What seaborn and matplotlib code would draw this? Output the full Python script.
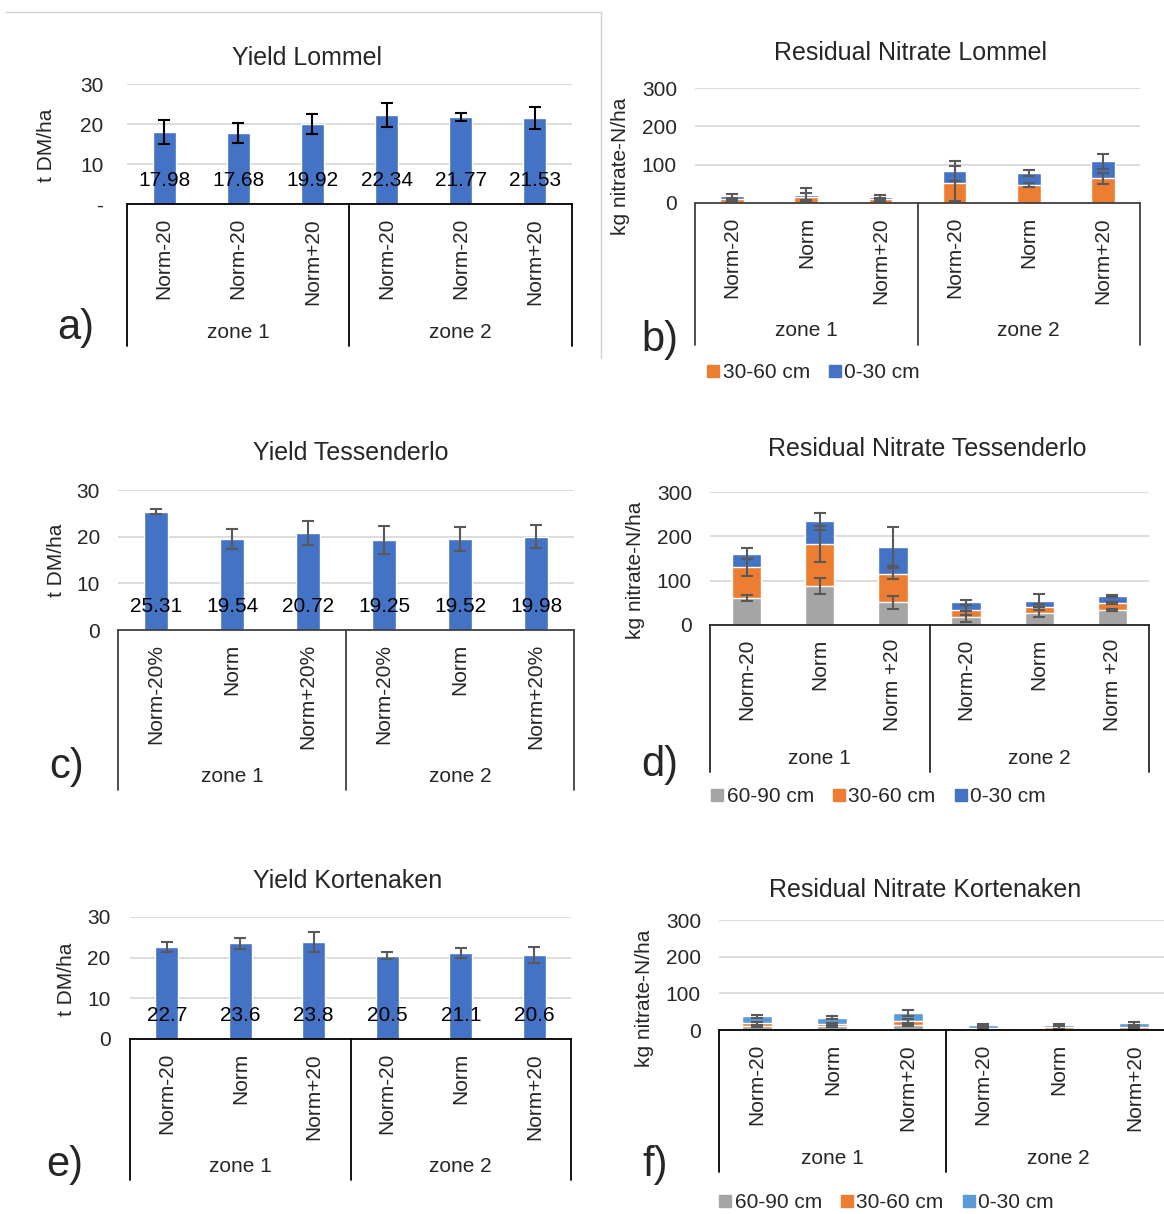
import numpy as np
import pandas as pd
import seaborn as sns
import matplotlib.pyplot as plt
from matplotlib.lines import Line2D

W, H = 1164, 1214
FS = 15

zones = ['zone 1', 'zone 2']
zone_of_bar = ['zone 1'] * 3 + ['zone 2'] * 3

# a) yield Lommel
lommel_trt = ['Norm-20', 'Norm-20', 'Norm+20', 'Norm-20', 'Norm-20', 'Norm+20']
lommel_yield = [17.98, 17.68, 19.92, 22.34, 21.77, 21.53]
lommel_yield_err = [3.0, 2.5, 2.5, 3.0, 1.0, 2.8]

# c) yield Tessenderlo
tess_trt = ['Norm-20%', 'Norm', 'Norm+20%', 'Norm-20%', 'Norm', 'Norm+20%']
tess_yield = [25.31, 19.54, 20.72, 19.25, 19.52, 19.98]
tess_yield_err = [0.55, 2.1, 2.6, 3.0, 2.6, 2.5]

# e) yield Kortenaken
kort_trt = ['Norm-20', 'Norm', 'Norm+20', 'Norm-20', 'Norm', 'Norm+20']
kort_yield = [22.7, 23.6, 23.8, 20.5, 21.1, 20.6]
kort_yield_err = [1.2, 1.35, 2.4, 0.95, 1.3, 2.0]

# b) residual nitrate Lommel (layers, bottom to top)
lommel_n_trt = ['Norm-20', 'Norm', 'Norm+20', 'Norm-20', 'Norm', 'Norm+20']
lommel_n_30_60 = [10, 16, 9.5, 51, 48, 64]
lommel_n_0_30 = [7, 6, 6.5, 32, 30, 45]
lommel_n_30_60_err = [4, 9, 3, 46, 5, 14]
lommel_n_0_30_err = [6, 17, 5, 26, 8, 20]

# d) residual nitrate Tessenderlo
tess_n_trt = ['Norm-20', 'Norm', 'Norm +20', 'Norm-20', 'Norm', 'Norm +20']
tess_n_60_90 = [61, 88, 51, 19, 26, 34]
tess_n_30_60 = [69, 94, 65, 15, 15, 16]
tess_n_0_30 = [31, 52, 61, 17, 14, 16]
tess_n_60_90_err = [7, 17, 14, 13, 7, 2]
tess_n_30_60_err = [19, 41, 13, 12, 7, 2]
tess_n_0_30_err = [13, 19, 45, 6, 14, 2]

# f) residual nitrate Kortenaken
kort_n_trt = ['Norm-20', 'Norm', 'Norm+20', 'Norm-20', 'Norm', 'Norm+20']
kort_n_60_90 = [11, 11, 14, 2, 2, 2]
kort_n_30_60 = [7, 6, 10, 4, 5, 6]
kort_n_0_30 = [19, 17, 23, 7, 6, 10]
kort_n_60_90_err = [2, 2, 3, 2, 2, 2]
kort_n_30_60_err = [4, 3, 5, 3, 3, 3]
kort_n_0_30_err = [4, 4, 8, 3, 3, 4]

depth_labels = ['60-90 cm', '30-60 cm', '0-30 cm']

BLUE = '#4472C4'
ORANGE = '#ED7D31'
GREY = '#A5A5A5'
LIGHTBLUE = '#5B9BD5'
ERR = '#595959'

sns.set_theme(style='white', rc={'font.size': FS})
plt.rcParams['font.family'] = ['Liberation Sans', 'DejaVu Sans']

fig = plt.figure(figsize=(W / 100, H / 100), dpi=100)


def px_axes(left, top, right, bottom):
    return fig.add_axes([left / W, 1 - bottom / H, (right - left) / W, (bottom - top) / H])


def make_df(trt, values):
    slots = [f'{z} {t} #{k}' for k, (z, t) in enumerate(zip(zone_of_bar, trt))]
    return pd.DataFrame({'slot': slots, 'zone': zone_of_bar, 'trt': trt, 'value': values})


def style_axes(ax, ymax, step, axis_color, pad, ticklabels=None):
    ticks = np.arange(0, ymax + step, step)
    ax.set_ylim(0, ymax)
    ax.set_xlim(-0.5, 5.5)
    ax.set_yticks(ticks)
    if ticklabels is not None:
        ax.set_yticklabels(ticklabels)
    ax.set_xticks([])
    ax.set_xlabel('')
    ax.set_ylabel('')
    ax.tick_params(axis='y', length=0, pad=pad, labelsize=FS, labelcolor='#262626')
    ax.grid(axis='y', color='#D9D9D9', lw=1.3)
    ax.set_axisbelow(True)
    for s in ['left', 'right', 'top']:
        ax.spines[s].set_visible(False)
    ax.spines['bottom'].set_color(axis_color)
    ax.spines['bottom'].set_linewidth(1.3)
    ax.spines['bottom'].set_zorder(5)


def category_axis(ax, labels, height_px, zone_drop, line_drop, color):
    for i, lab in enumerate(labels):
        ax.annotate(lab, xy=(i, 0), xycoords=('data', 'axes fraction'),
                    xytext=(0, -10), textcoords='offset points',
                    rotation=90, ha='center', va='top', fontsize=FS)
    for j, z in enumerate(zones):
        ax.annotate(z, xy=(3 * j + 1, 0), xycoords=('data', 'axes fraction'),
                    xytext=(0, -zone_drop * 0.72), textcoords='offset points',
                    ha='center', va='center', fontsize=FS)
    for xb in [-0.5, 2.5, 5.5]:
        ax.plot([xb, xb], [0, -line_drop / height_px], transform=ax.get_xaxis_transform(),
                color=color, lw=1.3, clip_on=False)


def yield_panel(box, trt, values, errs, fmt, ecolor, axis_color, pad, ticklabels, zone_drop, line_drop):
    ax = px_axes(*box)
    df = make_df(trt, values)
    sns.barplot(data=df, x='slot', y='value', order=list(df['slot']), color=BLUE,
                saturation=1, width=0.31, errorbar=None, ax=ax)
    ax.errorbar(np.arange(len(values)), values, yerr=errs, fmt='none', ecolor=ecolor,
                elinewidth=1.5, capsize=4.5, capthick=1.5, zorder=4)
    for i, v in enumerate(values):
        ax.annotate(fmt.format(v), xy=(i, 0), xytext=(0, 17), textcoords='offset points',
                    ha='center', va='center', fontsize=FS, color='black', zorder=6)
    style_axes(ax, 30, 10, axis_color, pad, ticklabels)
    category_axis(ax, trt, box[3] - box[1], zone_drop, line_drop, axis_color)
    return ax


def nitrate_panel(box, trt, layers, errs, colors, axis_color, zone_drop, line_drop, width):
    ax = px_axes(*box)
    cum = np.cumsum(np.array(layers, dtype=float), axis=0)
    df = make_df(trt, cum[-1])
    for k in range(len(layers) - 1, -1, -1):
        df['value'] = cum[k]
        sns.barplot(data=df, x='slot', y='value', order=list(df['slot']), color=colors[k],
                    saturation=1, width=width, errorbar=None, ax=ax)
    for k in range(len(layers)):
        ax.errorbar(np.arange(len(trt)), cum[k], yerr=errs[k], fmt='none', ecolor=ERR,
                    elinewidth=1.5, capsize=4.5, capthick=1.5, zorder=4)
    style_axes(ax, 300, 100, axis_color, 13)
    category_axis(ax, trt, box[3] - box[1], zone_drop, line_drop, axis_color)
    return ax


def legend(x, y, colors, labels):
    handles = [Line2D([], [], marker='s', color=c, linestyle='none', markersize=8) for c in colors]
    fig.legend(handles, labels, loc='center left', bbox_to_anchor=(x / W, 1 - y / H),
               frameon=False, ncol=len(labels), fontsize=FS, handlelength=0.6,
               handletextpad=0.15, columnspacing=0.9, borderpad=0, borderaxespad=0)


def ftext(x, y, s, **kw):
    fig.text(x / W, 1 - y / H, s, ha='center', va='center', **kw)


# frame line round panel a
fig.add_artist(Line2D([6 / W, 601 / W], [1 - 12 / H, 1 - 12 / H], color='#D0D0D0', lw=1))
fig.add_artist(Line2D([601 / W, 601 / W], [1 - 12 / H, 1 - 358 / H], color='#D0D0D0', lw=1))

# a)
yield_panel((127, 84, 572, 204), lommel_trt, lommel_yield, lommel_yield_err, '{:.2f}',
            'black', 'black', 17, ['-', '10', '20', '30'], 129, 142)
ftext(307, 58, 'Yield Lommel', fontsize=18)
ftext(47, 145, 't DM/ha', fontsize=FS, rotation=90)
ftext(76, 328, 'a)', fontsize=30)

# c)
yield_panel((118, 490, 574, 630), tess_trt, tess_yield, tess_yield_err, '{:.2f}',
            ERR, '#404040', 13, None, 147, 160)
ftext(351, 453, 'Yield Tessenderlo', fontsize=18)
ftext(56, 560, 't DM/ha', fontsize=FS, rotation=90)
ftext(67, 767, 'c)', fontsize=30)

# e)
yield_panel((130, 917, 571, 1039), kort_trt, kort_yield, kort_yield_err, '{:.1f}',
            ERR, 'black', 14, None, 128, 141)
ftext(348, 881, 'Yield Kortenaken', fontsize=18)
ftext(67, 979, 't DM/ha', fontsize=FS, rotation=90)
ftext(65, 1165, 'e)', fontsize=30)

# b)
nitrate_panel((695, 88, 1140, 203), lommel_n_trt,
              [lommel_n_30_60, lommel_n_0_30], [lommel_n_30_60_err, lommel_n_0_30_err],
              [ORANGE, BLUE], '#404040', 128, 142, 0.32)
ftext(910, 53, 'Residual Nitrate Lommel', fontsize=18)
ftext(621, 166, 'kg nitrate-N/ha', fontsize=FS, rotation=90)
ftext(660, 340, 'b)', fontsize=30)
legend(707, 373, [ORANGE, BLUE], depth_labels[1:])

# d)
nitrate_panel((710, 492, 1149, 625), tess_n_trt,
              [tess_n_60_90, tess_n_30_60, tess_n_0_30],
              [tess_n_60_90_err, tess_n_30_60_err, tess_n_0_30_err],
              [GREY, ORANGE, BLUE], '#262626', 134, 147, 0.40)
ftext(927, 449, 'Residual Nitrate Tessenderlo', fontsize=18)
ftext(636, 570, 'kg nitrate-N/ha', fontsize=FS, rotation=90)
ftext(660, 765, 'd)', fontsize=30)
legend(711, 797, [GREY, ORANGE, BLUE], depth_labels)

# f)
nitrate_panel((719, 920, 1172, 1030), kort_n_trt,
              [kort_n_60_90, kort_n_30_60, kort_n_0_30],
              [kort_n_60_90_err, kort_n_30_60_err, kort_n_0_30_err],
              [GREY, ORANGE, LIGHTBLUE], 'black', 128, 142, 0.40)
ftext(925, 890, 'Residual Nitrate Kortenaken', fontsize=18)
ftext(645, 998, 'kg nitrate-N/ha', fontsize=FS, rotation=90)
ftext(655, 1165, 'f)', fontsize=30)
legend(719, 1203, [GREY, ORANGE, LIGHTBLUE], depth_labels)

fig.savefig('out.png', dpi=100, facecolor='white')
